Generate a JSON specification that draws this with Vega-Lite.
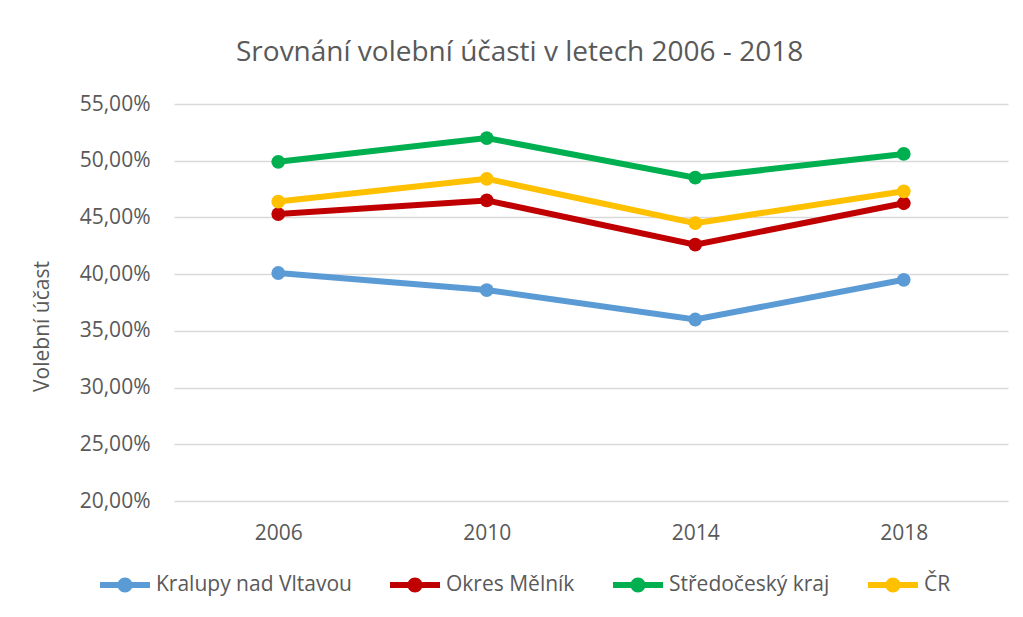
{
  "$schema": "https://vega.github.io/schema/vega-lite/v6.json",
  "width": 834,
  "height": 397,
  "autosize": {"type": "none"},
  "padding": {"left": 174, "top": 104, "right": 15, "bottom": 116},
  "background": "white",
  "config": {
    "locale": {"number": {"decimal": ",", "thousands": " ", "grouping": [3], "currency": ["", " Kč"]}},
    "view": {"stroke": null},
    "font": "Open Sans"
  },
  "title": {
    "text": "Srovnání volební účasti v letech 2006 - 2018",
    "font": "Open Sans",
    "fontSize": 28,
    "fontWeight": "normal",
    "color": "#595959",
    "anchor": "middle",
    "frame": "bounds",
    "baseline": "alphabetic",
    "offset": 4
  },
  "data": {
    "values": [
      {"rok": "2006", "oblast": "Kralupy nad Vltavou", "ucast": 0.401},
      {"rok": "2010", "oblast": "Kralupy nad Vltavou", "ucast": 0.386},
      {"rok": "2014", "oblast": "Kralupy nad Vltavou", "ucast": 0.360},
      {"rok": "2018", "oblast": "Kralupy nad Vltavou", "ucast": 0.395},
      {"rok": "2006", "oblast": "Okres Mělník", "ucast": 0.453},
      {"rok": "2010", "oblast": "Okres Mělník", "ucast": 0.465},
      {"rok": "2014", "oblast": "Okres Mělník", "ucast": 0.426},
      {"rok": "2018", "oblast": "Okres Mělník", "ucast": 0.4625},
      {"rok": "2006", "oblast": "Středočeský kraj", "ucast": 0.499},
      {"rok": "2010", "oblast": "Středočeský kraj", "ucast": 0.520},
      {"rok": "2014", "oblast": "Středočeský kraj", "ucast": 0.485},
      {"rok": "2018", "oblast": "Středočeský kraj", "ucast": 0.506},
      {"rok": "2006", "oblast": "ČR", "ucast": 0.464},
      {"rok": "2010", "oblast": "ČR", "ucast": 0.484},
      {"rok": "2014", "oblast": "ČR", "ucast": 0.445},
      {"rok": "2018", "oblast": "ČR", "ucast": 0.473}
    ]
  },
  "encoding": {
    "x": {
      "field": "rok",
      "type": "ordinal",
      "scale": {"type": "point", "padding": 0.5},
      "axis": {
        "title": null,
        "labelAngle": 0,
        "labelFont": "Open Sans",
        "labelFontSize": 21,
        "labelColor": "#595959",
        "labelPadding": 21,
        "ticks": false,
        "tickSize": 0,
        "domain": false,
        "grid": false
      }
    },
    "y": {
      "field": "ucast",
      "type": "quantitative",
      "scale": {"domain": [0.2, 0.55], "nice": false, "zero": false},
      "axis": {
        "title": "Volební účast",
        "titleFont": "Open Sans",
        "titleFontSize": 21,
        "titleFontWeight": "normal",
        "titleColor": "#595959",
        "titlePadding": 27,
        "titleY": 222,
        "format": ".2%",
        "values": [0.2, 0.25, 0.3, 0.35, 0.4, 0.45, 0.5, 0.55],
        "labelFont": "Open Sans",
        "labelFontSize": 21,
        "labelColor": "#595959",
        "labelPadding": 24,
        "ticks": false,
        "tickSize": 0,
        "domain": false,
        "grid": true,
        "gridColor": "#D9D9D9",
        "gridWidth": 1.5
      }
    },
    "color": {
      "field": "oblast",
      "type": "nominal",
      "sort": ["Kralupy nad Vltavou", "Okres Mělník", "Středočeský kraj", "ČR"],
      "scale": {
        "domain": ["Kralupy nad Vltavou", "Okres Mělník", "Středočeský kraj", "ČR"],
        "range": ["#5B9BD5", "#C00000", "#00B050", "#FFC000"]
      },
      "legend": {
        "title": null,
        "orient": "none",
        "direction": "horizontal",
        "legendX": -74,
        "legendY": 456,
        "symbolType": "M-1,-0.12H1V0.12H-1Z M0.3,0A0.3,0.3,0,1,1,-0.3,0A0.3,0.3,0,1,1,0.3,0Z",
        "symbolSize": 2500,
        "symbolStrokeWidth": 0,
        "symbolOpacity": 1,
        "labelFont": "Open Sans",
        "labelFontSize": 21,
        "labelColor": "#595959",
        "labelOffset": 6,
        "columnPadding": 38,
        "labelLimit": 400,
        "encode": {
          "symbols": {
            "update": {
              "fill": {"scale": "color", "field": "value"},
              "strokeWidth": {"value": 0}
            }
          }
        }
      }
    }
  },
  "layer": [
    {"mark": {"type": "line", "strokeWidth": 6}},
    {"mark": {"type": "point", "filled": true, "size": 190, "opacity": 1}}
  ]
}
